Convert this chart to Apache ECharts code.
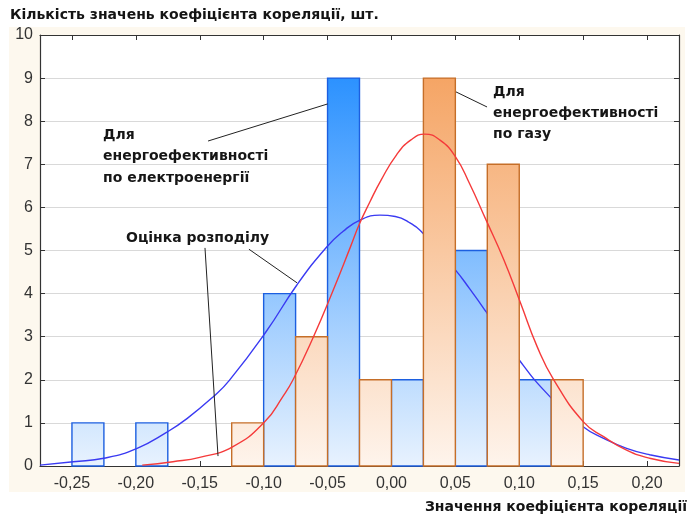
<!DOCTYPE html>
<html>
<head>
<meta charset="utf-8">
<script src="https://cdn.jsdelivr.net/npm/echarts@6/dist/echarts.min.js"></script>
<style>html,body{margin:0;padding:0;background:#fff}#c{width:689px;height:514px}</style>
</head>
<body>
<div id="c"></div>
<script>
// ---- data ----
var binWidth = 0.025;
var blueBinStarts = [-0.25, -0.20, -0.10, -0.05, 0.00, 0.05, 0.10];
var blueCounts    = [1, 1, 4, 9, 2, 5, 2];
var orangeBinStarts = [-0.125, -0.075, -0.025, 0.025, 0.075, 0.125];
var orangeCounts    = [1, 3, 2, 9, 7, 2];

var blueCurveX = [-0.275,-0.249,-0.225,-0.199,-0.176,-0.160,-0.139,-0.127,-0.098,-0.074,-0.051,-0.038,-0.025,-0.009,0.003,0.014,0.025,0.050,0.061,0.074,0.100,0.124,0.150,0.166,0.184,0.202,0.225];
var blueCurveY = [0.02,0.10,0.18,0.41,0.78,1.10,1.62,1.98,3.12,4.20,5.07,5.44,5.70,5.82,5.79,5.65,5.39,4.55,4.12,3.58,2.46,1.61,0.91,0.64,0.41,0.26,0.14];
var redCurveX = [-0.195,-0.171,-0.150,-0.124,-0.099,-0.085,-0.077,-0.061,-0.046,-0.032,-0.025,-0.017,-0.008,0.004,0.015,0.026,0.038,0.050,0.061,0.074,0.088,0.101,0.114,0.127,0.150,0.166,0.184,0.202,0.225];
var redCurveY = [0.02,0.10,0.20,0.45,1.03,1.61,2.00,3.00,4.05,5.09,5.62,6.12,6.64,7.22,7.56,7.70,7.56,7.18,6.56,5.71,4.78,3.78,2.77,2.00,1.03,0.68,0.37,0.18,0.06];

var xTicks = [-0.25,-0.20,-0.15,-0.10,-0.05,0.00,0.05,0.10,0.15,0.20];

var titleText = 'Кількість значень коефіцієнта кореляції, шт.';
var xAxisName = 'Значення коефіцієнта кореляції';
var annoElec = {text: 'Для\nенергоефективності\nпо електроенергії', at: [-0.2257, 7.68], line: [[-0.1435, 7.54], [-0.05, 8.40]]};
var annoGas  = {text: 'Для\nенергоефективності\nпо газу', at: [0.0795, 8.68], line: [[0.0505, 8.68], [0.0748, 8.33]]};
var annoEst  = {text: 'Оцінка розподілу', at: [-0.2077, 5.29], lines: [[[-0.1459, 5.06], [-0.1357, 0.23]], [[-0.1115, 5.03], [-0.0739, 4.25]]]};

// ---- build ----
function bins(starts, counts) {
  return starts.map(function (s, i) { return [s, s + binWidth, counts[i]]; });
}
function pairs(xs, ys) { return xs.map(function (x, i) { return [x, ys[i]]; }); }

function histRender(topColor, botColor, stroke) {
  return function (params, api) {
    var p0 = api.coord([api.value(0), 0]);
    var p1 = api.coord([api.value(1), api.value(2)]);
    var yTop = api.coord([0, 10])[1];
    var yBot = api.coord([0, 0])[1];
    return {
      type: 'rect',
      shape: {x: p0[0], y: p1[1], width: p1[0] - p0[0], height: p0[1] - p1[1]},
      style: {
        fill: {type: 'linear', x: 0, y: yTop, x2: 0, y2: yBot, global: true,
               colorStops: [{offset: 0, color: topColor}, {offset: 1, color: botColor}]},
        stroke: stroke, lineWidth: 1.4
      }
    };
  };
}

var fmt = function (v) { return v.toFixed(2).replace('.', ','); };
var tickFont = {fontFamily: 'Liberation Sans', fontSize: 16, color: '#333'};

var chart = echarts.init(document.getElementById('c'), null, {renderer: 'canvas'});
var option = {
  backgroundColor: '#fff',
  animation: false,
  grid: {left: 40, right: 10, top: 35, bottom: 48, containLabel: false},
  xAxis: [{
    type: 'value', min: -0.275, max: 0.225, position: 'bottom',
    axisLine: {show: true, onZero: false, lineStyle: {color: '#333', width: 1.2}},
    axisTick: {show: true, inside: true, length: 5, customValues: xTicks, lineStyle: {color: '#333'}},
    axisLabel: Object.assign({customValues: xTicks, formatter: fmt, margin: 10}, tickFont),
    splitLine: {show: false}
  }, {
    type: 'value', min: -0.275, max: 0.225, position: 'top',
    axisLine: {show: true, onZero: false, lineStyle: {color: '#333', width: 1.2}},
    axisTick: {show: true, inside: true, length: 5, customValues: xTicks, lineStyle: {color: '#333'}},
    axisLabel: {show: false}, splitLine: {show: false}
  }],
  yAxis: [{
    type: 'value', min: 0, max: 10, interval: 1, position: 'left',
    axisLine: {show: true, onZero: false, lineStyle: {color: '#333', width: 1.2}},
    axisTick: {show: true, inside: true, length: 5, lineStyle: {color: '#333'}},
    axisLabel: Object.assign({margin: 7}, tickFont),
    splitLine: {show: true, lineStyle: {color: '#d9d9d9', width: 1.2}}
  }, {
    type: 'value', min: 0, max: 10, interval: 1, position: 'right',
    axisLine: {show: true, onZero: false, lineStyle: {color: '#333', width: 1.2}},
    axisTick: {show: true, inside: true, length: 5, lineStyle: {color: '#333'}},
    axisLabel: {show: false}, splitLine: {show: false}
  }],
  series: [{
    type: 'custom', z: 2, xAxisIndex: 0, yAxisIndex: 0,
    renderItem: histRender('#1787ff', '#e8f2fe', '#1c5fe0'),
    data: bins(blueBinStarts, blueCounts)
  }, {
    type: 'line', z: 3, smooth: 0.5, showSymbol: false, symbol: 'none',
    lineStyle: {color: '#3a3af2', width: 1.4},
    data: pairs(blueCurveX, blueCurveY)
  }, {
    type: 'custom', z: 4, xAxisIndex: 0, yAxisIndex: 0,
    renderItem: histRender('#f49c56', '#fef4ec', '#c56e28'),
    data: bins(orangeBinStarts, orangeCounts)
  }, {
    type: 'line', z: 5, smooth: 0.5, showSymbol: false, symbol: 'none',
    lineStyle: {color: '#f53a3a', width: 1.4},
    data: pairs(redCurveX, redCurveY)
  }]
};
chart.setOption(option);

function px(p) { return chart.convertToPixel({xAxisIndex: 0, yAxisIndex: 0}, p); }
var textFont = 'bold 14px "DejaVu Sans"';
function textEl(a, lh) {
  var p = px(a.at);
  return {type: 'text', z: 100, style: {text: a.text, x: p[0], y: p[1] - lh / 2, font: textFont, fill: '#161616', lineHeight: lh, verticalAlign: 'top'}};
}
function lineEl(seg) {
  var a = px(seg[0]), b = px(seg[1]);
  return {type: 'line', z: 100, shape: {x1: a[0], y1: a[1], x2: b[0], y2: b[1]}, style: {stroke: '#222', lineWidth: 1}};
}
var gs = [
  {type: 'rect', z: -10, silent: true, shape: {x: 9, y: 27, width: 676, height: 465}, style: {fill: '#fdf8ee'}},
  {type: 'rect', z: -9, silent: true, shape: {x: 40, y: 35, width: 639, height: 431}, style: {fill: '#ffffff'}},
  {type: 'text', z: 100, style: {text: titleText, x: 10, y: 15, font: textFont, fill: '#141414', verticalAlign: 'middle'}},
  {type: 'text', z: 100, style: {text: xAxisName, x: 687, y: 507, font: textFont, fill: '#141414', align: 'right', verticalAlign: 'middle'}},
  textEl(annoElec, 21.5), lineEl(annoElec.line),
  textEl(annoGas, 21), lineEl(annoGas.line),
  textEl(annoEst, 20), lineEl(annoEst.lines[0]), lineEl(annoEst.lines[1])
];
chart.setOption({graphic: {elements: gs}});
</script>
</body>
</html>
